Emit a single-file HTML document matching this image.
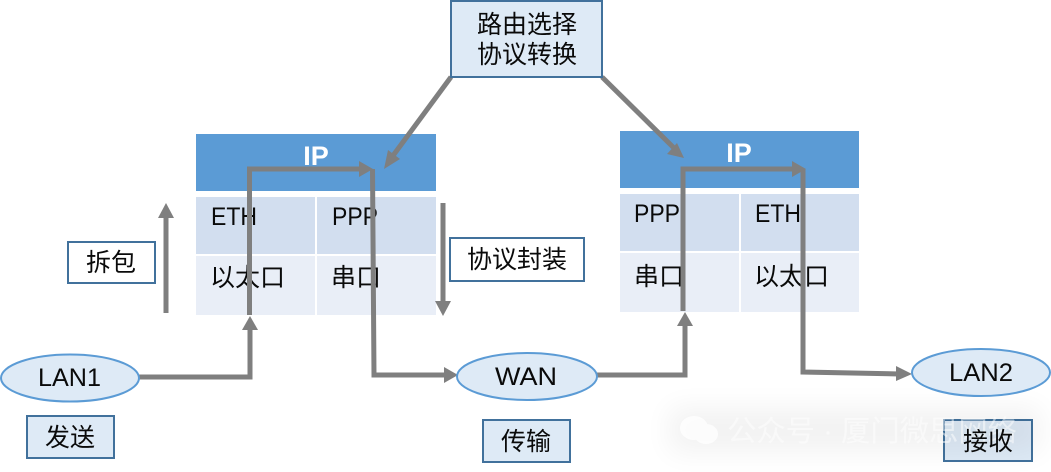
<!DOCTYPE html>
<html>
<head>
<meta charset="utf-8">
<style>
html,body{margin:0;padding:0;background:#fff;width:1051px;height:472px;overflow:hidden}
svg{display:block}
text{font-family:"Liberation Sans","Noto Sans CJK SC",sans-serif;font-size:25px;fill:#0a0a0a}
.c{text-anchor:middle}
.ip{font-weight:bold;fill:#fff;font-size:27px}
.wm{font-size:29px;fill:#fff;opacity:.5}
</style>
</head>
<body>
<svg width="1051" height="472" viewBox="0 0 1051 472" xmlns="http://www.w3.org/2000/svg">
<defs><filter id="b" x="-30%" y="-60%" width="160%" height="220%"><feGaussianBlur stdDeviation="14"/></filter></defs>

<!-- left table -->
<rect x="196" y="134" width="240" height="57" fill="#5b9bd5"/>
<rect x="196" y="197" width="119" height="57" fill="#d2deef"/>
<rect x="317" y="197" width="119" height="57" fill="#d2deef"/>
<rect x="196" y="256" width="119" height="59" fill="#e9eef7"/>
<rect x="317" y="256" width="119" height="59" fill="#e9eef7"/>
<text x="316" y="165" class="c ip">IP</text>
<text x="211" y="225" textLength="46" lengthAdjust="spacingAndGlyphs">ETH</text>
<text x="332" y="225" textLength="46" lengthAdjust="spacingAndGlyphs">PPP</text>
<text x="210" y="286">以太口</text>
<text x="331" y="286">串口</text>

<!-- right table -->
<rect x="620" y="131" width="239" height="57" fill="#5b9bd5"/>
<rect x="620" y="194" width="119" height="57" fill="#d2deef"/>
<rect x="741" y="194" width="118" height="57" fill="#d2deef"/>
<rect x="620" y="253" width="119" height="59" fill="#e9eef7"/>
<rect x="741" y="253" width="118" height="59" fill="#e9eef7"/>
<text x="739" y="162" class="c ip">IP</text>
<text x="634" y="222" textLength="46" lengthAdjust="spacingAndGlyphs">PPP</text>
<text x="755" y="222" textLength="46" lengthAdjust="spacingAndGlyphs">ETH</text>
<text x="634" y="285">串口</text>
<text x="754" y="285">以太口</text>

<!-- connectors -->
<g fill="none" stroke="#7f7f7f" stroke-width="5">
<path d="M139 377H250V328"/>
<path d="M249.500 315V169H362"/>
<path d="M372.500 169L374 375H445"/>
<path d="M597 375H685V324"/>
<path d="M683 311V169H795"/>
<path d="M803 169V372L900 374"/>
<path d="M166 313V216"/>
<path d="M443 203V303"/>
<path d="M451 77L392 157"/>
<path d="M602 77L674 148"/>
</g>
<g fill="#7f7f7f">
<path d="M250 316L258 330H242Z"/>
<path d="M373 169L359 161V177Z"/>
<path d="M458 375L444 367V383Z"/>
<path d="M685 312L693 326H677Z"/>
<path d="M806 169L792 161V177Z"/>
<path d="M912 374L896 366V381Z"/>
<path d="M166 203L174 218H158Z"/>
<path d="M443 316L435 301H451Z"/>
<path d="M384 169L388 150L400 159Z"/>
<path d="M684 158L667 154L677 143Z"/>
</g>

<!-- boxes -->
<rect x="451" y="1" width="151" height="76" fill="#deeaf6" stroke="#41719c" stroke-width="2"/>
<text x="527" y="33" class="c">路由选择</text>
<text x="527" y="63" class="c">协议转换</text>

<rect x="68" y="242" width="87" height="41" fill="#fff" stroke="#41719c" stroke-width="2"/>
<text x="111" y="271" class="c">拆包</text>

<rect x="450" y="238" width="134" height="43" fill="#fff" stroke="#41719c" stroke-width="2"/>
<text x="517" y="268" class="c">协议封装</text>

<rect x="27" y="416" width="87" height="42" fill="#deeaf6" stroke="#41719c" stroke-width="2"/>
<text x="70" y="446" class="c">发送</text>

<rect x="483" y="420" width="87" height="42" fill="#deeaf6" stroke="#41719c" stroke-width="2"/>
<text x="526" y="450" class="c">传输</text>

<!-- watermark sits over the receive box -->
<rect x="944" y="420" width="88" height="41" fill="#deeaf6" stroke="#41719c" stroke-width="2"/>
<rect x="670" y="408" width="370" height="44" fill="#000" opacity=".05" filter="url(#b)"/>
<g fill="#fff" opacity=".8">
<ellipse cx="694" cy="428" rx="14" ry="12"/>
<ellipse cx="706" cy="434" rx="12" ry="10"/>
</g>
<text x="727" y="441" class="wm" textLength="290" lengthAdjust="spacingAndGlyphs">公众号 · 厦门微思网络</text>
<text x="988" y="450" class="c">接收</text>

<!-- ellipses -->
<ellipse cx="70" cy="378" rx="69" ry="23.500" fill="#deeaf6" stroke="#5b9bd5" stroke-width="2"/>
<text x="38" y="386" textLength="63" lengthAdjust="spacingAndGlyphs">LAN1</text>
<ellipse cx="527" cy="376.500" rx="70" ry="23.500" fill="#deeaf6" stroke="#5b9bd5" stroke-width="2"/>
<text x="495" y="385" textLength="62" lengthAdjust="spacingAndGlyphs">WAN</text>
<ellipse cx="981" cy="372.500" rx="69" ry="23.500" fill="#deeaf6" stroke="#5b9bd5" stroke-width="2"/>
<text x="949" y="381" textLength="64" lengthAdjust="spacingAndGlyphs">LAN2</text>
</svg>
</body>
</html>
